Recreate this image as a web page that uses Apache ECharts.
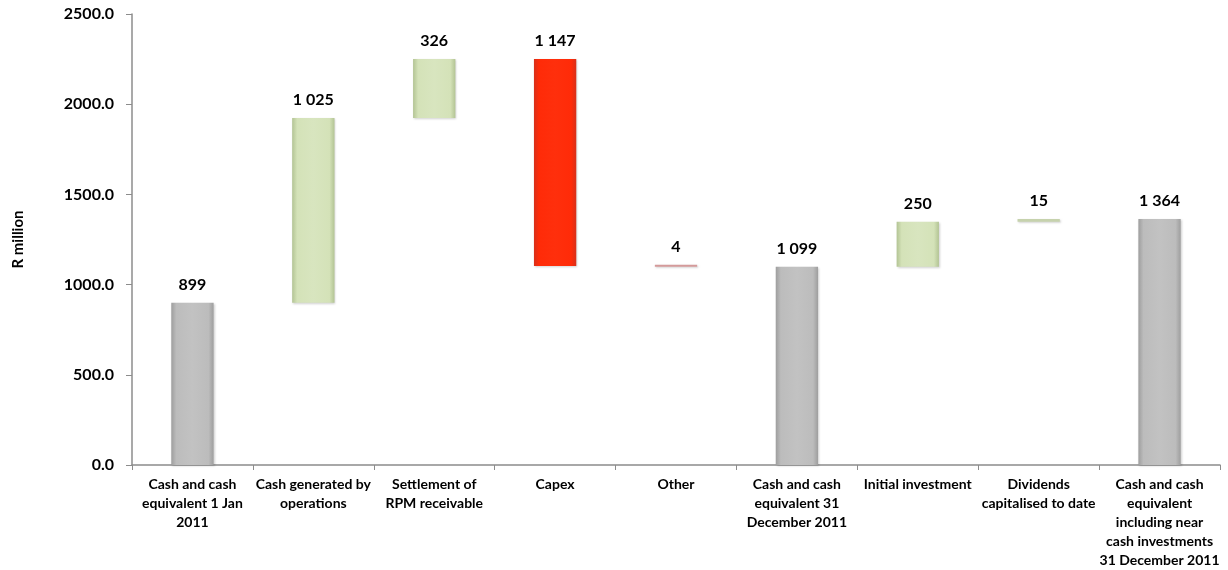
<!DOCTYPE html>
<html>
<head>
<meta charset="utf-8">
<script src="https://cdn.jsdelivr.net/npm/echarts@6/dist/echarts.min.js"></script>
<style>
  html, body { margin: 0; padding: 0; background: #ffffff; }
  #chart { width: 1228px; height: 570px; }
</style>
</head>
<body>
<div id="chart"></div>
<script>
// Cash movement waterfall, R million
const categories = [
  'Cash and cash\nequivalent 1 Jan\n2011',
  'Cash generated by\noperations',
  'Settlement of\nRPM receivable',
  'Capex',
  'Other',
  'Cash and cash\nequivalent 31\nDecember 2011',
  'Initial investment',
  'Dividends\ncapitalised to date',
  'Cash and cash\nequivalent\nincluding near\ncash investments\n31 December 2011'
];
const amounts = [899, 1025, 326, 1147, 4, 1099, 250, 15, 1364];
const kinds = ['total', 'increase', 'increase', 'decrease', 'decrease', 'total', 'increase', 'increase', 'total'];
const yTicks = { min: 0, max: 2500, interval: 500 };

// running totals -> invisible base + visible segment
const bases = [];
const heights = [];
let running = 0;
amounts.forEach((v, i) => {
  if (kinds[i] === 'total') {
    bases.push(0); heights.push(v); running = v;
  } else if (kinds[i] === 'increase') {
    bases.push(running); heights.push(v); running += v;
  } else {
    running -= v; bases.push(running); heights.push(v);
  }
});

function bevel(edge, mid, light) {
  return {
    type: 'linear', x: 0, y: 0, x2: 1, y2: 0,
    colorStops: [
      { offset: 0, color: edge },
      { offset: 0.12, color: mid },
      { offset: 0.5, color: light },
      { offset: 0.88, color: mid },
      { offset: 1, color: edge }
    ]
  };
}
const fills = {
  total: bevel('#9e9e9e', '#bcbcbc', '#c2c2c2'),
  increase: bevel('#b3c494', '#d4e2b8', '#d8e5bf'),
  decrease: bevel('#d8301a', '#ff2b08', '#ff2f0c')
};
const thinFill = { increase: '#c6d2ad', decrease: '#d49a9a' };

function fmt(v) {
  return String(v).replace(/\B(?=(\d{3})+(?!\d))/g, ' ');
}

const chart = echarts.init(document.getElementById('chart'));
chart.setOption({
  animation: false,
  grid: { left: 132, right: 8, top: 14, bottom: 105 },
  xAxis: {
    type: 'category',
    data: categories,
    axisLine: { lineStyle: { color: '#8c8c8c', width: 1.5 } },
    axisTick: { show: true, alignWithLabel: false, length: 5, lineStyle: { color: '#8c8c8c' } },
    axisLabel: {
      interval: 0,
      margin: 10,
      color: '#000',
      fontFamily: 'Lato',
      fontWeight: 'bold',
      fontSize: 14,
      lineHeight: 19,
      align: 'center'
    }
  },
  yAxis: {
    type: 'value',
    min: yTicks.min,
    max: yTicks.max,
    interval: yTicks.interval,
    name: 'R million',
    nameLocation: 'middle',
    nameGap: 106,
    nameRotate: 90,
    nameTextStyle: { color: '#000', fontFamily: 'Lato', fontWeight: 'bold', fontSize: 15 },
    axisLine: { show: true, lineStyle: { color: '#8c8c8c', width: 1.5 } },
    axisTick: { show: true, length: 6, lineStyle: { color: '#8c8c8c' } },
    splitLine: { show: false },
    axisLabel: {
      margin: 18,
      color: '#000',
      fontFamily: 'Lato',
      fontWeight: 'bold',
      fontSize: 16,
      formatter: v => v.toFixed(1)
    }
  },
  series: [
    {
      type: 'bar',
      stack: 'w',
      barWidth: '35%',
      itemStyle: { color: 'transparent' },
      emphasis: { disabled: true },
      data: bases
    },
    {
      type: 'bar',
      stack: 'w',
      barWidth: '35%',
      barMinHeight: 2,
      data: heights.map((h, i) => ({
        value: h,
        itemStyle: {
          color: (h < 40 && kinds[i] !== 'total') ? thinFill[kinds[i]] : fills[kinds[i]],
          shadowColor: 'rgba(0,0,0,0.18)',
          shadowBlur: 2,
          shadowOffsetX: 1,
          shadowOffsetY: 1
        }
      })),
      label: {
        show: true,
        position: 'top',
        distance: 10,
        color: '#000',
        fontFamily: 'Lato',
        fontWeight: 'bold',
        fontSize: 16,
        formatter: p => fmt(amounts[p.dataIndex])
      }
    }
  ]
});
</script>
</body>
</html>
